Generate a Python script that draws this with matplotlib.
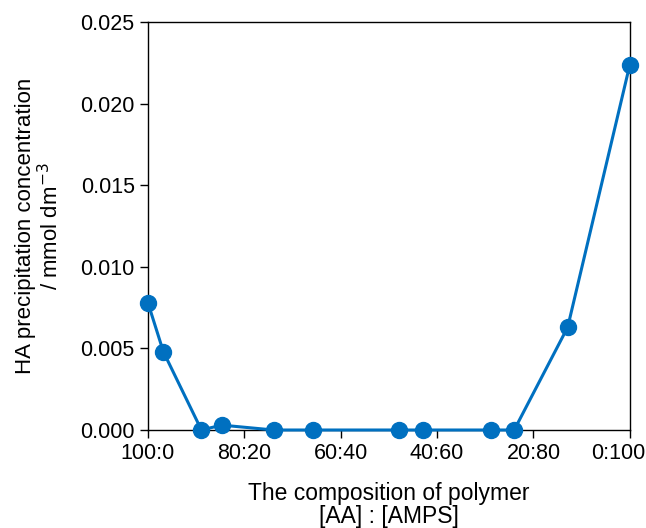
import matplotlib
matplotlib.use("Agg")
import matplotlib.pyplot as plt
import matplotlib.transforms as mtransforms

plt.rcParams['font.family'] = ['Liberation Sans', 'DejaVu Sans']

# AMPS fraction (%) of polymer composition
amps_pct = [0, 3.2, 11.1, 15.3, 26.1, 34.2, 52.1, 57.1, 71.2, 76.0, 87.1, 100]
ha_conc = [0.0078, 0.0048, 0.0, 0.0003, 0.0, 0.0, 0.0, 0.0, 0.0, 0.0, 0.0063, 0.0224]

tick_pos = [0, 20, 40, 60, 80, 100]
tick_labels = ["100:0", "80:20", "60:40", "40:60", "20:80", "0:100"]
yticks = [0.0, 0.005, 0.010, 0.015, 0.020, 0.025]

fig = plt.figure(figsize=(6.46, 5.28), dpi=100)
ax = fig.add_axes([0.229, 0.1856, 0.746, 0.7724])

color = '#0070C0'
ax.plot(amps_pct, ha_conc, '-o', color=color, lw=2.2, markersize=11.5, clip_on=False, zorder=3)

ax.set_xlim(0, 100)
ax.set_ylim(0, 0.025)
ax.set_xticks(tick_pos)
ax.set_xticklabels(tick_labels)
ax.set_yticks(yticks)
ax.set_yticklabels([f"{v:.3f}" for v in yticks])
ax.tick_params(axis='both', labelsize=15.5, direction='out', length=6, width=1.0)
for s in ax.spines.values():
    s.set_linewidth(1.0)

# shift the last x tick label left so it stays inside the figure
last = ax.get_xticklabels()[-1]
last.set_transform(last.get_transform() + mtransforms.ScaledTranslation(-12 / 100, 0, fig.dpi_scale_trans))

ax.set_xlabel("The composition of polymer\n[AA] : [AMPS]", fontsize=16.5, linespacing=1.0, labelpad=13)
ax.set_ylabel("HA precipitation concentration\n/ mmol dm$^{-3}$", fontsize=16, linespacing=1.1, labelpad=12)

fig.savefig("out.png", dpi=100)
